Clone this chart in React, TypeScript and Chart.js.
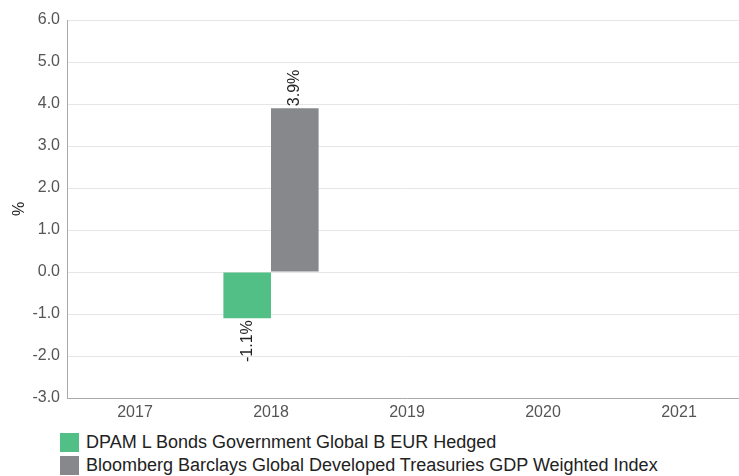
import React, { useEffect, useRef } from "react";
import { Chart, registerables } from "chart.js";

Chart.register(...registerables);

const categories = ["2017", "2018", "2019", "2020", "2021"];
const fundValues: (number | null)[] = [null, -1.1, null, null, null];
const indexValues: (number | null)[] = [null, 3.9, null, null, null];
const seriesNames = [
  "DPAM L Bonds Government Global B EUR Hedged",
  "Bloomberg Barclays Global Developed Treasuries GDP Weighted Index",
];
const seriesColors = ["#51bf86", "#87888c"];

const FONT = "'Liberation Sans', Arial, sans-serif";

const labelPlugin = {
  id: "barLabels",
  afterDatasetsDraw(chart: any) {
    const ctx = chart.ctx;
    chart.data.datasets.forEach((ds: any, i: number) => {
      const meta = chart.getDatasetMeta(i);
      meta.data.forEach((el: any, j: number) => {
        const v = ds.data[j];
        if (v === null || v === undefined) return;
        ctx.save();
        ctx.font = `16px ${FONT}`;
        ctx.fillStyle = "#222";
        ctx.textBaseline = "middle";
        ctx.translate(el.x, el.y);
        ctx.rotate(-Math.PI / 2);
        const txt = v.toFixed(1) + "%";
        if (v >= 0) {
          ctx.textAlign = "left";
          ctx.fillText(txt, 2, 0);
        } else {
          ctx.textAlign = "right";
          ctx.fillText(txt, -2, 0);
        }
        ctx.restore();
      });
    });
  },
};

export default function App() {
  const ref = useRef<HTMLCanvasElement>(null);
  useEffect(() => {
    if (!ref.current) return;
    const chart = new Chart(ref.current, {
      type: "bar",
      data: {
        labels: categories,
        datasets: [
          {
            label: seriesNames[0],
            data: fundValues,
            backgroundColor: seriesColors[0],
            categoryPercentage: 0.7,
            barPercentage: 1,
          },
          {
            label: seriesNames[1],
            data: indexValues,
            backgroundColor: seriesColors[1],
            categoryPercentage: 0.7,
            barPercentage: 1,
          },
        ],
      },
      plugins: [labelPlugin],
      options: {
        animation: false,
        responsive: false,
        layout: { padding: { left: 0, right: 0, top: 20, bottom: 0 } },
        plugins: { legend: { display: false }, tooltip: { enabled: false } },
        scales: {
          x: {
            grid: { display: false, drawTicks: false },
            border: { display: true, color: "#aaaaaa" },
            ticks: { color: "#555", font: { family: FONT, size: 16 }, padding: 5 },
            afterFit: (s: any) => {
              s.height = 27;
            },
          },
          y: {
            min: -3,
            max: 6,
            ticks: {
              stepSize: 1,
              color: "#555",
              font: { family: FONT, size: 16 },
              padding: 7,
              callback: (v: any) => Number(v).toFixed(1),
            },
            grid: { color: "#e6e6e6", drawTicks: false },
            border: { display: true, color: "#aaaaaa" },
            title: {
              display: true,
              text: "%",
              color: "#222",
              font: { family: FONT, size: 16 },
              padding: { top: 10, bottom: 0 },
            },
            afterFit: (s: any) => {
              s.width = 67;
            },
          },
        },
      },
    });
    return () => chart.destroy();
  }, []);

  return (
    <div style={{ position: "absolute", left: 0, top: 0, width: 739, height: 476, background: "#fff", overflow: "hidden" }}>
      <canvas ref={ref} width={747} height={425} style={{ display: "block" }} />
      <div style={{ position: "absolute", left: 60, top: 431, fontFamily: FONT, fontSize: 18, color: "#222" }}>
        {seriesNames.map((n, i) => (
          <div key={n} style={{ display: "flex", alignItems: "center", height: 23, whiteSpace: "nowrap" }}>
            <span style={{ display: "inline-block", width: 19, height: 19, background: seriesColors[i], marginRight: 7, flex: "none" }} />
            <span>{n}</span>
          </div>
        ))}
      </div>
    </div>
  );
}
